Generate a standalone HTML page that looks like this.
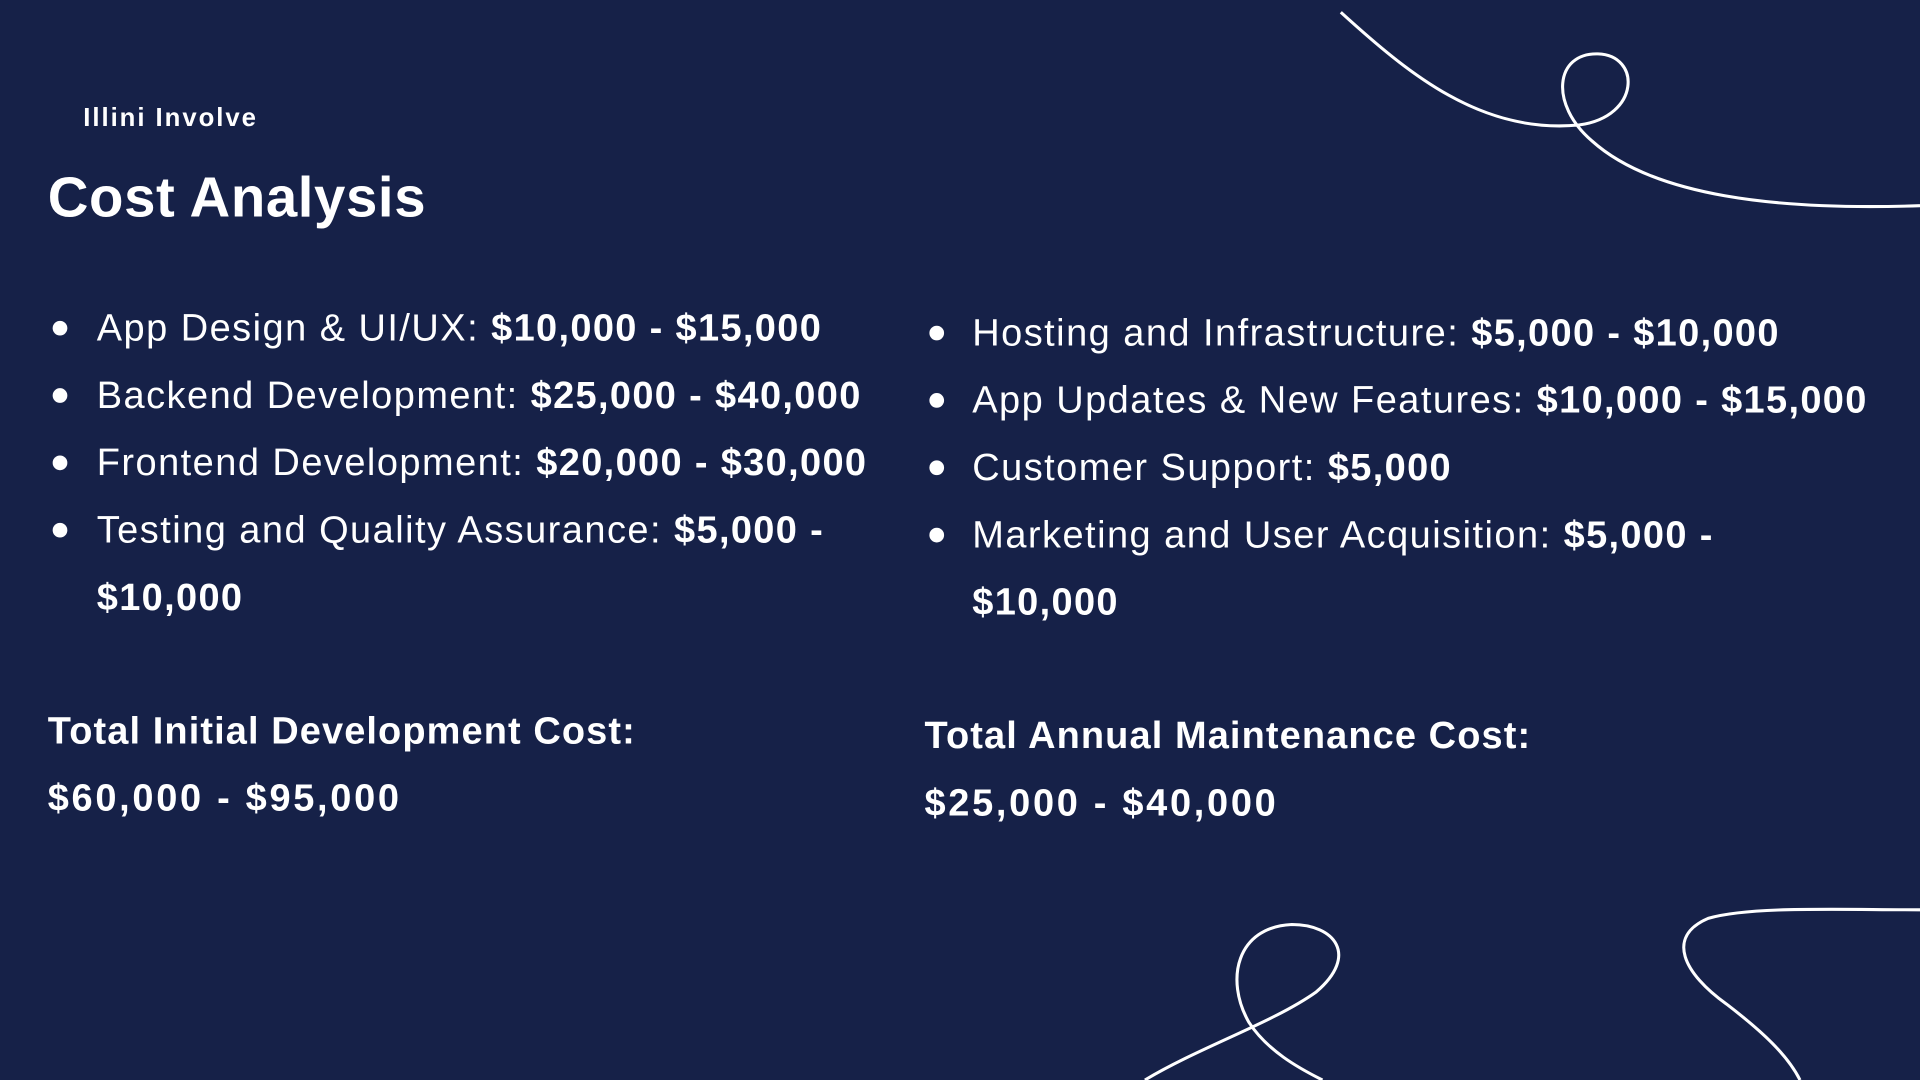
<!DOCTYPE html>
<html><head><meta charset="utf-8"><style>
html,body{margin:0;padding:0;width:1920px;height:1080px;overflow:hidden;background:#162148;}
#stage{position:absolute;left:0;top:0;width:1568px;height:882px;transform:scale(1.2244898);transform-origin:0 0;font-family:"Liberation Sans",sans-serif;color:#fff;}
.abs{position:absolute;white-space:nowrap;}
.brand{left:68px;top:85px;font-size:21px;font-weight:bold;letter-spacing:1.6px;}
.title{left:39px;top:134px;font-size:46px;font-weight:bold;letter-spacing:0.5px;}
.item{font-size:31px;letter-spacing:1.2px;line-height:55px;}
.item b{font-weight:bold;letter-spacing:1.1px;}
.dot{position:absolute;width:12px;height:12px;border-radius:50%;background:#fff;}
.total{font-size:31px;font-weight:bold;line-height:55px;letter-spacing:0.9px;}
.total span{letter-spacing:2.2px;}
</style></head><body>
<div id="stage">
<svg class="abs" style="left:0;top:0" width="1568" height="882">
<path d="M1095,10 C1150,60 1210,110 1290,102 C1340,95 1340,45 1305,44 C1270,43 1265,85 1300,115 C1350,160 1450,172 1568,168" fill="none" stroke="#fff" stroke-width="2.5"/>
<path d="M935,882 C980,855 1040,835 1075,810 C1110,780 1090,755 1055,755 C1010,757 1000,800 1020,835 C1035,858 1060,872 1080,882" fill="none" stroke="#fff" stroke-width="2.5"/>
<path d="M1568,743 C1500,743 1430,740 1395,750 C1360,765 1375,795 1410,820 C1440,843 1460,862 1470,882" fill="none" stroke="#fff" stroke-width="2.5"/>
</svg>
<div class="abs brand">Illini Involve</div>
<div class="abs title">Cost Analysis</div>

<div>
<div class="dot" style="left:43px;top:262px"></div>
<div class="abs item" style="left:79px;top:240px">App Design &amp; UI/UX: <b>$10,000 - $15,000</b></div>
<div class="dot" style="left:43px;top:317px"></div>
<div class="abs item" style="left:79px;top:295px">Backend Development: <b>$25,000 - $40,000</b></div>
<div class="dot" style="left:43px;top:372px"></div>
<div class="abs item" style="left:79px;top:350px">Frontend Development: <b>$20,000 - $30,000</b></div>
<div class="dot" style="left:43px;top:427px"></div>
<div class="abs item" style="left:79px;top:405px">Testing and Quality Assurance: <b>$5,000 -</b><br><b>$10,000</b></div>
</div>

<div>
<div class="dot" style="left:759px;top:266px"></div>
<div class="abs item" style="left:794px;top:244px">Hosting and Infrastructure: <b>$5,000 - $10,000</b></div>
<div class="dot" style="left:759px;top:321px"></div>
<div class="abs item" style="left:794px;top:299px">App Updates &amp; New Features: <b>$10,000 - $15,000</b></div>
<div class="dot" style="left:759px;top:376px"></div>
<div class="abs item" style="left:794px;top:354px">Customer Support: <b>$5,000</b></div>
<div class="dot" style="left:759px;top:431px"></div>
<div class="abs item" style="left:794px;top:409px">Marketing and User Acquisition: <b>$5,000 -</b><br><b>$10,000</b></div>
</div>

<div class="abs total" style="left:39px;top:569px">Total Initial Development Cost:<br><span>$60,000 - $95,000</span></div>
<div class="abs total" style="left:755px;top:573px">Total Annual Maintenance Cost:<br><span>$25,000 - $40,000</span></div>
</div>
</body></html>
